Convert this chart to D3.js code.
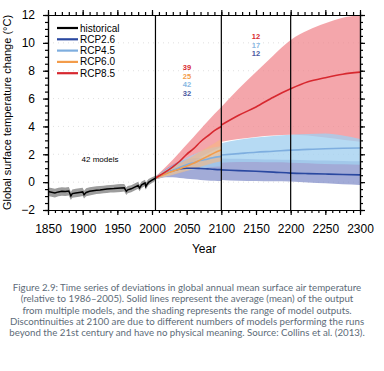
<!DOCTYPE html>
<html>
<head>
<meta charset="utf-8">
<script src="https://cdn.jsdelivr.net/npm/d3@7"></script>
<style>
  body { margin: 0; background: #fff; }
  svg { display: block; }
  .axis path, .axis line { stroke: #000; stroke-width: 1.2; }
  .axis text { font-family: "Liberation Sans", Arial, sans-serif; font-size: 12px; fill: #000; }
</style>
</head>
<body>
<div id="chart"></div>
<script>
// historical record (1850-2005)
const histYears = [1850,1855,1860,1865,1870,1875,1880,1883,1885,1890,1895,1900,1902,1905,1910,1915,1920,1925,1930,1935,1940,1945,1950,1955,1960,1963,1965,1970,1975,1980,1982,1985,1990,1991,1993,1995,2000,2005];
const histMean  = [-0.68,-0.72,-0.78,-0.70,-0.66,-0.68,-0.64,-0.98,-0.82,-0.78,-0.74,-0.70,-0.90,-0.74,-0.66,-0.62,-0.58,-0.56,-0.53,-0.50,-0.47,-0.46,-0.44,-0.42,-0.41,-0.66,-0.55,-0.48,-0.36,-0.24,-0.43,-0.20,-0.06,-0.32,-0.15,-0.02,0.14,0.28];
const histLow   = [-1.00,-1.05,-1.10,-1.02,-0.98,-1.00,-0.95,-1.28,-1.12,-1.08,-1.04,-1.00,-1.18,-1.02,-0.95,-0.90,-0.86,-0.84,-0.80,-0.78,-0.75,-0.74,-0.72,-0.70,-0.68,-0.92,-0.80,-0.72,-0.60,-0.48,-0.66,-0.42,-0.28,-0.55,-0.36,-0.22,-0.06,0.10];
const histHigh  = [-0.38,-0.42,-0.48,-0.40,-0.36,-0.38,-0.34,-0.70,-0.52,-0.48,-0.44,-0.40,-0.62,-0.44,-0.37,-0.33,-0.30,-0.28,-0.25,-0.22,-0.20,-0.18,-0.16,-0.14,-0.13,-0.38,-0.28,-0.22,-0.10,0.02,-0.18,0.05,0.18,-0.06,0.10,0.22,0.36,0.46];

// projections 2005-2100
const projYears = [2005,2020,2030,2040,2050,2060,2070,2080,2090,2100];
const rcp85Mean = [0.30,0.75,1.10,1.50,2.00,2.40,2.90,3.30,3.70,4.00];
const rcp85Low  = [0.20,0.45,0.70,0.95,1.20,1.50,1.80,2.05,2.30,2.55];
const rcp85High = [0.40,1.10,1.60,2.15,2.70,3.25,3.80,4.35,4.90,5.40];
const rcp60Mean = [0.30,0.60,0.78,0.95,1.15,1.35,1.60,1.85,2.10,2.30];
const rcp60Low  = [0.20,0.40,0.52,0.65,0.80,0.95,1.10,1.25,1.40,1.50];
const rcp60High = [0.40,0.85,1.10,1.35,1.62,1.90,2.20,2.50,2.80,3.10];
const rcp45Mean = [0.30,0.65,0.85,1.05,1.25,1.40,1.55,1.65,1.78,1.85];
const rcp45Low  = [0.20,0.40,0.55,0.70,0.82,0.90,0.98,1.05,1.10,1.12];
const rcp45High = [0.40,0.90,1.20,1.45,1.75,1.98,2.20,2.38,2.50,2.60];
const rcp26Mean = [0.30,0.65,0.82,0.95,1.00,1.00,0.98,0.95,0.92,0.90];
const rcp26Low  = [0.20,0.35,0.35,0.30,0.25,0.20,0.15,0.12,0.10,0.08];
const rcp26High = [0.40,0.95,1.25,1.50,1.65,1.72,1.75,1.78,1.80,1.80];

// extensions 2100-2300
const extYears  = [2100,2125,2150,2175,2200,2225,2250,2275,2300];
const ext85Mean = [4.10,4.80,5.40,6.10,6.70,7.20,7.50,7.75,7.90];
const ext85Low  = [2.90,3.10,3.25,3.35,3.40,3.35,3.20,3.05,2.90];
const ext85High = [5.40,6.70,7.90,9.10,10.20,10.90,11.40,11.80,12.00];
const ext45Mean = [1.95,2.05,2.15,2.22,2.30,2.35,2.40,2.43,2.45];
const ext45Low  = [1.40,1.45,1.45,1.42,1.40,1.35,1.30,1.28,1.25];
const ext45High = [2.80,3.05,3.20,3.32,3.40,3.45,3.50,3.35,3.10];
const ext26Mean = [0.88,0.83,0.78,0.72,0.65,0.61,0.58,0.55,0.52];
const ext26Low  = [0.15,0.10,0.08,0.06,0.05,-0.02,-0.08,-0.15,-0.20];
const ext26High = [1.70,1.68,1.65,1.62,1.60,1.58,1.55,1.52,1.50];

// model counts
const countsLabel = "42 models";
const counts2100 = ["39", "25", "42", "32"];
const counts2300 = ["12", "17", "12"];

const legendNames = ["historical", "RCP2.6", "RCP4.5", "RCP6.0", "RCP8.5"];
const legendColors = ["#000000", "#2a48a0", "#7eaedf", "#f39c4a", "#d7282f"];

const xTicks = [1850,1900,1950,2000,2050,2100,2150,2200,2250,2300];
const yTicks = [-2,0,2,4,6,8,10,12];
const dividers = [2005, 2100, 2200];

const caption = [
  "Figure 2.9: Time series of deviations in global annual mean surface air temperature",
  "(relative to 1986\u20132005). Solid lines represent the average (mean) of the output",
  "from multiple models, and the shading represents the range of model outputs.",
  "Discontinuities at 2100 are due to different numbers of models performing the runs",
  "beyond the 21st century and have no physical meaning. Source: Collins et al. (2013)."
];

const W = 384, H = 371;
const svg = d3.select("#chart").append("svg")
  .attr("width", W).attr("height", H)
  .style("background", "#fff");

const x = d3.scaleLinear().domain([1850, 2300]).range([48, 360]);
const y = d3.scaleLinear().domain([-2, 12]).range([210, 15]);

// faint dotted grid
svg.append("g").selectAll("line")
  .data(yTicks.slice(1, -1))
  .join("line")
  .attr("x1", x(1850)).attr("x2", x(2300))
  .attr("y1", d => y(d)).attr("y2", d => y(d))
  .attr("stroke", "#d8d8d8").attr("stroke-width", 0.8)
  .attr("stroke-dasharray", "1,4");

const zip = (yrs, lo, hi, m) => yrs.map((yr, i) => ({ yr, lo: lo[i], hi: hi[i], m: m[i] }));

const area = d3.area().x(d => x(d.yr)).y0(d => y(d.lo)).y1(d => y(d.hi));
const line = d3.line().x(d => x(d.yr)).y(d => y(d.m));
const smoothArea = d3.area().curve(d3.curveMonotoneX).x(d => x(d.yr)).y0(d => y(d.lo)).y1(d => y(d.hi));
const smoothLine = d3.line().curve(d3.curveMonotoneX).x(d => x(d.yr)).y(d => y(d.m));

const plot = svg.append("g");

// shaded ranges
const hist = zip(histYears, histLow, histHigh, histMean);
plot.append("path").datum(hist)
  .attr("d", area).attr("fill", "#737373").attr("fill-opacity", 0.7);

const bands = [
  [zip(projYears, rcp85Low, rcp85High, rcp85Mean), "#f0848a", 0.72],
  [zip(extYears, ext85Low, ext85High, ext85Mean), "#f0848a", 0.72],
  [zip(projYears, rcp26Low, rcp26High, rcp26Mean), "#7e8bc8", 0.72],
  [zip(extYears, ext26Low, ext26High, ext26Mean), "#7e8bc8", 0.72],
  [zip(projYears, rcp45Low, rcp45High, rcp45Mean), "#a2cfef", 0.72],
  [zip(extYears, ext45Low, ext45High, ext45Mean), "#a2cfef", 0.78],
  [zip(projYears, rcp60Low, rcp60High, rcp60Mean), "#f7b780", 0.6]
];
bands.forEach(([data, col, op]) => {
  plot.append("path").datum(data)
    .attr("d", smoothArea).attr("fill", col).attr("fill-opacity", op);
});

// mean lines
plot.append("path").datum(hist)
  .attr("d", line).attr("fill", "none")
  .attr("stroke", "#000").attr("stroke-width", 1.5);

const lines = [
  [zip(projYears, rcp26Low, rcp26High, rcp26Mean), "#2a48a0"],
  [zip(extYears, ext26Low, ext26High, ext26Mean), "#2a48a0"],
  [zip(projYears, rcp45Low, rcp45High, rcp45Mean), "#7eaedf"],
  [zip(extYears, ext45Low, ext45High, ext45Mean), "#7eaedf"],
  [zip(projYears, rcp60Low, rcp60High, rcp60Mean), "#f39c4a"],
  [zip(projYears, rcp85Low, rcp85High, rcp85Mean), "#d7282f"],
  [zip(extYears, ext85Low, ext85High, ext85Mean), "#d7282f"]
];
lines.forEach(([data, col]) => {
  plot.append("path").datum(data)
    .attr("d", smoothLine).attr("fill", "none")
    .attr("stroke", col).attr("stroke-width", 1.6);
});

// period dividers
svg.append("g").selectAll("line")
  .data(dividers)
  .join("line")
  .attr("x1", d => x(d)).attr("x2", d => x(d))
  .attr("y1", y(12)).attr("y2", y(-2))
  .attr("stroke", "#000").attr("stroke-width", 1.2);

// axes: major + minor ticks on all four sides
const minorX = d3.range(1850, 2301, 10);
const minorY = d3.range(-2, 12.01, 0.5);

svg.append("g").attr("class", "axis")
  .attr("transform", "translate(0," + y(-2) + ")")
  .call(d3.axisBottom(x).tickValues(minorX).tickSize(3).tickSizeOuter(0).tickFormat(""));
svg.append("g").attr("class", "axis")
  .attr("transform", "translate(0," + y(-2) + ")")
  .call(d3.axisBottom(x).tickValues(xTicks).tickSize(5).tickSizeOuter(0).tickPadding(9).tickFormat(d3.format("d")));

svg.append("g").attr("class", "axis")
  .attr("transform", "translate(0," + y(12) + ")")
  .call(d3.axisTop(x).tickValues(minorX).tickSize(3).tickSizeOuter(0).tickFormat(""));
svg.append("g").attr("class", "axis")
  .attr("transform", "translate(0," + y(12) + ")")
  .call(d3.axisTop(x).tickValues(xTicks).tickSize(5).tickSizeOuter(0).tickFormat(""));

svg.append("g").attr("class", "axis")
  .attr("transform", "translate(" + x(1850) + ",0)")
  .call(d3.axisLeft(y).tickValues(minorY).tickSize(3).tickSizeOuter(0).tickFormat(""));
svg.append("g").attr("class", "axis")
  .attr("transform", "translate(" + x(1850) + ",0)")
  .call(d3.axisLeft(y).tickValues(yTicks).tickSize(5).tickSizeOuter(0).tickPadding(8).tickFormat(d3.format("d")));

svg.append("g").attr("class", "axis")
  .attr("transform", "translate(" + x(2300) + ",0)")
  .call(d3.axisRight(y).tickValues(minorY).tickSize(3).tickSizeOuter(0).tickFormat(""));
svg.append("g").attr("class", "axis")
  .attr("transform", "translate(" + x(2300) + ",0)")
  .call(d3.axisRight(y).tickValues(yTicks).tickSize(5).tickSizeOuter(0).tickFormat(""));

svg.selectAll(".axis .domain").attr("stroke-width", 1.4);

// axis titles
const font = "'Liberation Sans', Arial, sans-serif";
svg.append("text")
  .attr("transform", "translate(11," + ((y(12) + y(-2)) / 2) + ") rotate(-90)")
  .attr("text-anchor", "middle")
  .attr("font-family", font).attr("font-size", 11)
  .text("Global surface temperature change (\u00B0C)");

svg.append("text")
  .attr("x", 204).attr("y", 253)
  .attr("text-anchor", "middle")
  .attr("font-family", font).attr("font-size", 12)
  .text("Year");

// legend
const legend = svg.append("g");
legendNames.forEach((name, i) => {
  const ly = 28 + i * 11.3;
  legend.append("line")
    .attr("x1", 57).attr("x2", 78).attr("y1", ly).attr("y2", ly)
    .attr("stroke", legendColors[i]).attr("stroke-width", 2.2);
  legend.append("text")
    .attr("x", 80).attr("y", ly + 3.5)
    .attr("font-family", font).attr("font-size", 10)
    .text(name);
});

// model counts
svg.append("text")
  .attr("x", 100).attr("y", 162)
  .attr("text-anchor", "middle")
  .attr("font-family", font).attr("font-size", 8)
  .text(countsLabel);

const c2100Colors = ["#d7282f", "#f39c4a", "#8ab8e2", "#4a5aa0"];
counts2100.forEach((c, i) => {
  svg.append("text")
    .attr("x", 187).attr("y", 70 + i * 8.6)
    .attr("text-anchor", "middle")
    .attr("font-family", font).attr("font-size", 7.5).attr("font-weight", "bold")
    .attr("fill", c2100Colors[i])
    .text(c);
});
const c2300Colors = ["#d7282f", "#8ab8e2", "#4a5aa0"];
counts2300.forEach((c, i) => {
  svg.append("text")
    .attr("x", 256).attr("y", 39 + i * 8.6)
    .attr("text-anchor", "middle")
    .attr("font-family", font).attr("font-size", 7.5).attr("font-weight", "bold")
    .attr("fill", c2300Colors[i])
    .text(c);
});

// caption
svg.append("g").selectAll("text")
  .data(caption)
  .join("text")
  .attr("x", 187).attr("y", (d, i) => 291 + i * 11.3)
  .attr("text-anchor", "middle")
  .attr("font-family", "Lato, 'Open Sans', sans-serif")
  .attr("font-size", 9.7)
  .attr("fill", "#5d6b78")
  .text(d => d);
</script>
</body>
</html>
